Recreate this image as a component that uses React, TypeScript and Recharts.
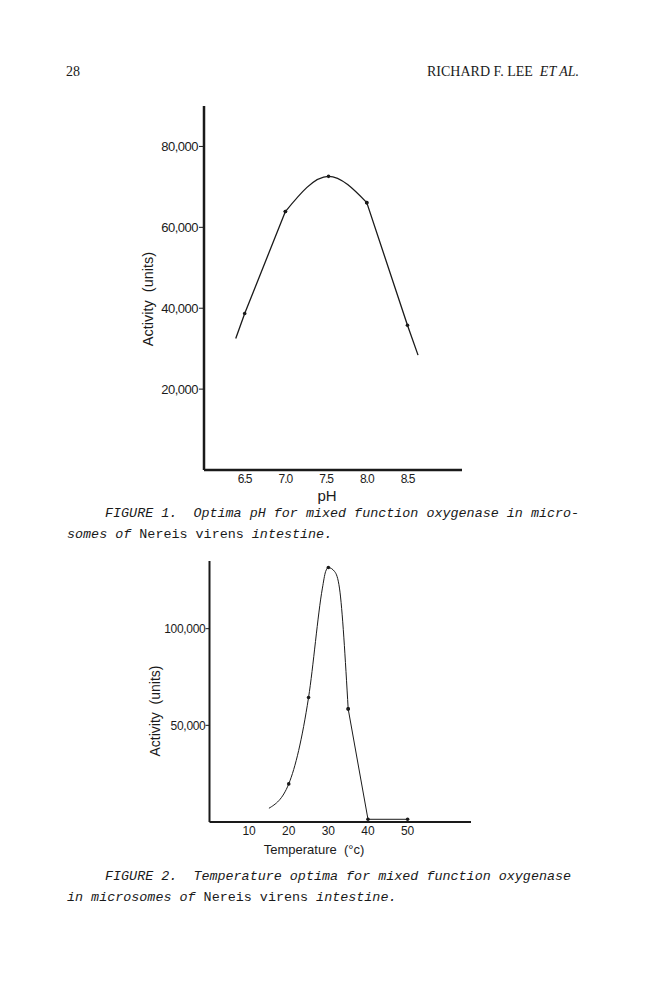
import React from 'react'
import { LineChart, Line, XAxis, YAxis, Label } from 'recharts'

// Figure 1: pH optimum (curve ends are the drawn extensions, not measurements)
const phValues = [6.39, 6.5, 7.0, 7.53, 8.0, 8.5, 8.63]
const phActivity = [32500, 38700, 63900, 72600, 66100, 35800, 28400]
const phMeasured = [6.5, 7.0, 7.53, 8.0, 8.5]
const phCurveFrom = 7.0 // drawn as a rounded arc between these two
const phCurveTo = 8.0
const phTicks = [6.5, 7.0, 7.5, 8.0, 8.5]
const phActivityTicks = [20000, 40000, 60000, 80000]

// Figure 2: temperature optimum (extra points trace the drawn peak)
const tempValues = [15, 20, 25, 28.5, 29.3, 30, 31.6, 32.8, 35, 40, 50]
const tempActivity = [7100, 19700, 64400, 121000, 129500, 131600, 129500, 121000, 58500, 1400, 1400]
const tempMeasured = [20, 25, 30, 35, 40, 50]
const tempBreak = 35 // straight segment from here on
const tempTicks = [10, 20, 30, 40, 50]
const tempActivityTicks = [50000, 100000]

const SANS = '"Liberation Sans", Arial, sans-serif'
const INK = '#1a1a1a'

const phData = phValues.map((ph, i) => ({
  ph,
  left: ph <= phCurveFrom ? phActivity[i] : undefined,
  arc: ph >= phCurveFrom && ph <= phCurveTo ? phActivity[i] : undefined,
  right: ph >= phCurveTo ? phActivity[i] : undefined,
  measured: phMeasured.includes(ph),
}))

const tempData = tempValues.map((t, i) => ({
  t,
  curve: t <= tempBreak ? tempActivity[i] : undefined,
  tail: t >= tempBreak ? tempActivity[i] : undefined,
  measured: tempMeasured.includes(t),
}))

const fmtThousands = (v: number) => v.toLocaleString('en-US')

function MeasuredDot(props: any) {
  const { cx, cy, payload, index, value } = props
  if (!payload?.measured || cy == null || value == null) return <g key={index} />
  return <circle key={index} cx={cx} cy={cy} r={1.8} fill={INK} />
}

// title position is given in the chart's own svg coordinates
function axisTitle(text: string, cx: number, cy: number, size: number, angle = 0) {
  return () => (
    <text
      x={cx}
      y={cy}
      textAnchor="middle"
      dominantBaseline="central"
      transform={angle ? `rotate(${angle} ${cx} ${cy})` : undefined}
      fontSize={size}
      fontFamily={SANS}
      fill={INK}
    >
      {text}
    </text>
  )
}

const seriesProps = {
  stroke: INK,
  dot: MeasuredDot,
  activeDot: false as const,
  isAnimationActive: false,
}

function PhChart() {
  return (
    <LineChart
      width={670}
      height={520}
      data={phData}
      margin={{ top: 106, right: 208, bottom: 10, left: 144 }}
    >
      <XAxis
        dataKey="ph"
        type="number"
        domain={[6, 9.17]}
        ticks={phTicks}
        tickFormatter={(v: number) => v.toFixed(1)}
        allowDataOverflow
        height={40}
        axisLine={{ stroke: INK, strokeWidth: 2.5 }}
        tickLine={false}
        tickSize={0}
        tickMargin={4}
        tick={{ fontSize: 12, fill: INK, fontFamily: SANS, letterSpacing: -1 }}
      >
        <Label content={axisTitle('pH', 327, 495, 15)} />
      </XAxis>
      <YAxis
        type="number"
        domain={[0, 90000]}
        ticks={phActivityTicks}
        tickFormatter={fmtThousands}
        allowDataOverflow
        width={60}
        axisLine={{ stroke: INK, strokeWidth: 2.5 }}
        tickLine={{ stroke: INK }}
        tickSize={5}
        tickMargin={1}
        tick={{ fontSize: 13, fill: INK, fontFamily: SANS, letterSpacing: -0.5 }}
      >
        <Label content={axisTitle('Activity\u00a0 (units)', 147.5, 299, 14.5, -90)} />
      </YAxis>
      <Line dataKey="left" type="linear" strokeWidth={1.3} {...seriesProps} />
      <Line dataKey="arc" type="monotone" strokeWidth={1.3} {...seriesProps} />
      <Line dataKey="right" type="linear" strokeWidth={1.3} {...seriesProps} />
    </LineChart>
  )
}

function TempChart() {
  return (
    <LineChart
      width={670}
      height={330}
      data={tempData}
      margin={{ top: 21, right: 199, bottom: 8, left: 149.5 }}
    >
      <XAxis
        dataKey="t"
        type="number"
        domain={[0, 66]}
        ticks={tempTicks}
        allowDataOverflow
        height={40}
        axisLine={{ stroke: INK, strokeWidth: 2 }}
        tickLine={false}
        tickSize={0}
        tickMargin={4}
        tick={{ fontSize: 12, fill: INK, fontFamily: SANS }}
      >
        <Label content={axisTitle('Temperature\u00a0 (°c)', 314, 309, 13)} />
      </XAxis>
      <YAxis
        type="number"
        domain={[0, 135000]}
        ticks={tempActivityTicks}
        tickFormatter={fmtThousands}
        allowDataOverflow
        width={60}
        axisLine={{ stroke: INK, strokeWidth: 2 }}
        tickLine={{ stroke: INK }}
        tickSize={4}
        tickMargin={0}
        tick={{ fontSize: 12, fill: INK, fontFamily: SANS, letterSpacing: -0.3 }}
      >
        <Label content={axisTitle('Activity\u00a0 (units)', 154.5, 171, 14, -90)} />
      </YAxis>
      <Line dataKey="curve" type="monotone" strokeWidth={1} {...seriesProps} />
      <Line dataKey="tail" type="linear" strokeWidth={1} {...seriesProps} />
    </LineChart>
  )
}

const captionStyle: React.CSSProperties = {
  position: 'absolute',
  fontFamily: '"Liberation Mono", "DejaVu Sans Mono", monospace',
  fontStyle: 'italic',
  fontSize: 13.4,
  lineHeight: '17.5px',
  color: INK,
  whiteSpace: 'pre',
}
const upright: React.CSSProperties = { fontStyle: 'normal' }

export default function App() {
  return (
    <div
      style={{
        position: 'absolute',
        left: 0,
        top: 0,
        width: 670,
        height: 1000,
        background: '#fff',
        overflow: 'hidden',
      }}
    >
      <div
        style={{
          position: 'absolute',
          left: 66,
          top: 64,
          fontFamily: '"Liberation Serif", serif',
          fontSize: 14,
          color: INK,
        }}
      >
        28
      </div>
      <div
        style={{
          position: 'absolute',
          right: 91,
          top: 64,
          fontFamily: '"Liberation Serif", serif',
          fontSize: 14,
          color: INK,
          whiteSpace: 'pre',
        }}
      >
        RICHARD F. LEE  <i>ET AL.</i>
      </div>

      <div style={{ position: 'absolute', left: 0, top: 0 }}>
        <PhChart />
      </div>

      <div style={{ ...captionStyle, left: 105, top: 505 }}>
        FIGURE 1.  Optima pH for mixed function oxygenase in micro-
      </div>
      <div style={{ ...captionStyle, left: 67, top: 526 }}>
        somes of <span style={upright}>Nereis virens</span> intestine.
      </div>

      <div style={{ position: 'absolute', left: 0, top: 540 }}>
        <TempChart />
      </div>

      <div style={{ ...captionStyle, left: 105, top: 868 }}>
        FIGURE 2.  Temperature optima for mixed function oxygenase
      </div>
      <div style={{ ...captionStyle, left: 67, top: 889 }}>
        in microsomes of <span style={upright}>Nereis virens</span> intestine.
      </div>
    </div>
  )
}
